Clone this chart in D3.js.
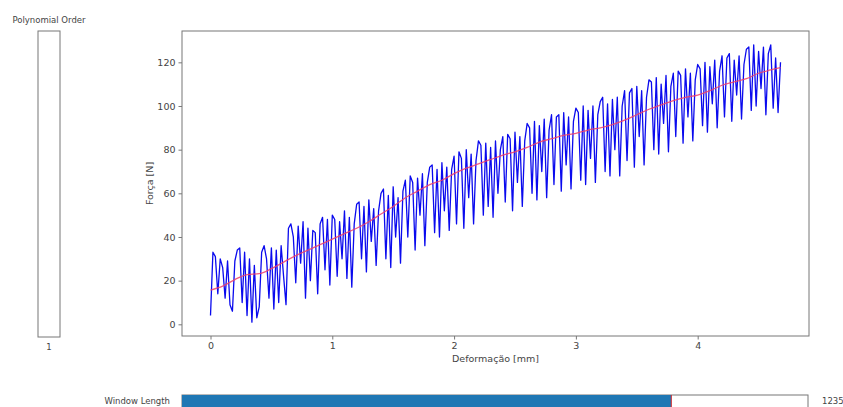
<!DOCTYPE html>
<html><head><meta charset="utf-8">
<script src="https://cdn.jsdelivr.net/npm/d3@7"></script>
<style>html,body{margin:0;padding:0;background:#fff;} svg{display:block;font-family:"DejaVu Sans",sans-serif;}</style>
</head><body>
<svg id="chart" width="843" height="407"></svg>
<script>
// Deformation sample step (mm) for the raw force signal
const sampleStep = 0.02;
// Raw force signal [N], one value per sample
const forceRaw = [
  4, 33, 31, 14, 30, 26, 12, 29, 9, 6,
  29, 34, 35, 10, 33, 4, 30, 1, 27, 3,
  8, 33, 36, 30, 12, 35, 7, 34, 10, 36,
  22, 9, 44, 46, 40, 19, 45, 28, 47, 12,
  44, 20, 43, 42, 14, 46, 49, 25, 48, 18,
  50, 48, 22, 47, 30, 52, 21, 49, 17, 46,
  55, 56, 30, 54, 24, 57, 38, 53, 27, 52,
  60, 62, 30, 59, 26, 63, 40, 58, 28, 61,
  66, 40, 68, 65, 34, 67, 50, 69, 36, 65,
  72, 73, 42, 71, 40, 74, 52, 72, 43, 71,
  77, 46, 79, 76, 44, 80, 58, 78, 46, 75,
  84, 82, 50, 83, 54, 81, 49, 84, 60, 80,
  86, 56, 87, 85, 52, 88, 65, 86, 54, 84,
  92, 90, 60, 93, 57, 91, 70, 94, 58, 89,
  96, 64, 95, 96, 61, 97, 73, 95, 62, 93,
  99, 97, 66, 100, 64, 98, 76, 100, 65, 96,
  102, 104, 70, 101, 68, 103, 80, 104, 68, 100,
  107, 75, 106, 108, 72, 109, 86, 107, 73, 104,
  112, 111, 80, 113, 78, 110, 92, 114, 79, 109,
  115, 86, 116, 114, 83, 117, 95, 115, 84, 112,
  119, 117, 91, 120, 88, 118, 101, 121, 90, 116,
  123, 95, 122, 124, 93, 121, 105, 123, 94, 119,
  126, 127, 98, 128, 100, 125, 108, 127, 96, 124,
  128, 99, 122, 97, 120
];
// Smoothed (filtered) force [N], sampled every 0.1 mm
const smoothStep = 0.1;
const forceSmooth = [
  15.7, 17.5, 20.5, 22.8, 23.2, 25.5, 28.5, 31.5, 34, 36.5,
  39, 41.5, 44, 47, 50.5, 54, 58, 61, 64, 66,
  69, 71.5, 73.5, 75.5, 77.5, 79, 81, 83.5, 85, 86.5,
  87.5, 89, 90, 91.5, 93.5, 96, 98.5, 100.5, 102.5, 104,
  105, 107, 109.5, 111, 112.5, 115, 116.5, 117.6
];
const xTicks = [0, 1, 2, 3, 4];
const yTicks = [0, 20, 40, 60, 80, 100, 120];
const xLabel = "Deformação [mm]";
const yLabel = "Força [N]";
const polyLabel = "Polynomial Order";
const polyValue = "1";
const windowLabel = "Window Length";
const windowValue = 1235;
const windowMin = 0;
const windowMax = 1580;

const svg = d3.select("#chart");
const L = 182, T = 31, R = 809, B = 336;

const rawPts = forceRaw.map((v, i) => [i * sampleStep, v]);
const smPts = forceSmooth.map((v, i) => [Math.min(i * smoothStep, (forceRaw.length - 1) * sampleStep), v]);

const xMax = (forceRaw.length - 1) * sampleStep;
const yMin = d3.min(forceRaw), yMaxV = d3.max(forceRaw);
const xm = xMax * 0.05, ym = (yMaxV - yMin) * 0.05;
const x = d3.scaleLinear().domain([-xm, xMax + xm]).range([L, R]);
const y = d3.scaleLinear().domain([yMin - ym, yMaxV + ym]).range([B, T]);

const plot = svg.append("g");
plot.append("path").datum(rawPts)
  .attr("fill", "none").attr("stroke", "#0a0aee").attr("stroke-width", 1.3)
  .attr("stroke-linejoin", "round")
  .attr("d", d3.line().x(d => x(d[0])).y(d => y(d[1])));
plot.append("path").datum(smPts)
  .attr("fill", "none").attr("stroke", "#f0406a").attr("stroke-width", 1.3).attr("opacity", 0.85)
  .attr("d", d3.line().curve(d3.curveMonotoneX).x(d => x(d[0])).y(d => y(d[1])));

// axes
const xAxis = svg.append("g").attr("transform", `translate(0,${B})`)
  .call(d3.axisBottom(x).tickValues(xTicks).tickFormat(d3.format("d")).tickSizeOuter(0).tickSize(3.5).tickPadding(3));
const yAxis = svg.append("g").attr("transform", `translate(${L},0)`)
  .call(d3.axisLeft(y).tickValues(yTicks).tickFormat(d3.format("d")).tickSizeOuter(0).tickSize(3.5).tickPadding(3));
[xAxis, yAxis].forEach(g => {
  g.select(".domain").remove();
  g.selectAll(".tick line").attr("stroke", "#555").attr("stroke-width", 0.8);
  g.selectAll(".tick text").attr("fill", "#444").style("font-size", "9.5px").style("font-family", "DejaVu Sans, sans-serif");
});
svg.append("rect").attr("x", L).attr("y", T).attr("width", R - L).attr("height", B - T)
  .attr("fill", "none").attr("stroke", "#777").attr("stroke-width", 1);

svg.append("text").attr("x", (L + R) / 2).attr("y", 362).attr("text-anchor", "middle")
  .attr("fill", "#444").style("font-size", "9.5px").text(xLabel);
svg.append("text").attr("transform", `translate(153,${(T + B) / 2}) rotate(-90)`).attr("text-anchor", "middle")
  .attr("fill", "#444").style("font-size", "9.5px").text(yLabel);

// Polynomial Order slider (vertical)
svg.append("rect").attr("x", 38).attr("y", 31).attr("width", 22).attr("height", 306)
  .attr("fill", "#fff").attr("stroke", "#777").attr("stroke-width", 1);
svg.append("text").attr("x", 49).attr("y", 23).attr("text-anchor", "middle")
  .attr("fill", "#444").style("font-size", "8.5px").text(polyLabel);
svg.append("text").attr("x", 49).attr("y", 350).attr("text-anchor", "middle")
  .attr("fill", "#444").style("font-size", "8.5px").text(polyValue);

// Window Length slider (horizontal)
const wx = d3.scaleLinear().domain([windowMin, windowMax]).range([182, 808]);
svg.append("rect").attr("x", wx(windowMin)).attr("y", 395).attr("width", wx(windowMax) - wx(windowMin)).attr("height", 20)
  .attr("fill", "#fff").attr("stroke", "#777").attr("stroke-width", 1);
svg.append("rect").attr("x", wx(windowMin)).attr("y", 395).attr("width", wx(windowValue) - wx(windowMin)).attr("height", 20)
  .attr("fill", "#1f77b4");
svg.append("line").attr("x1", wx(windowValue)).attr("x2", wx(windowValue)).attr("y1", 395).attr("y2", 407)
  .attr("stroke", "#d62728").attr("stroke-width", 1);
svg.append("text").attr("x", 170).attr("y", 404).attr("text-anchor", "end")
  .attr("fill", "#444").style("font-size", "8.5px").text(windowLabel);
svg.append("text").attr("x", 822).attr("y", 404).attr("text-anchor", "start")
  .attr("fill", "#444").style("font-size", "8.5px").text(windowValue);
</script>
</body></html>
